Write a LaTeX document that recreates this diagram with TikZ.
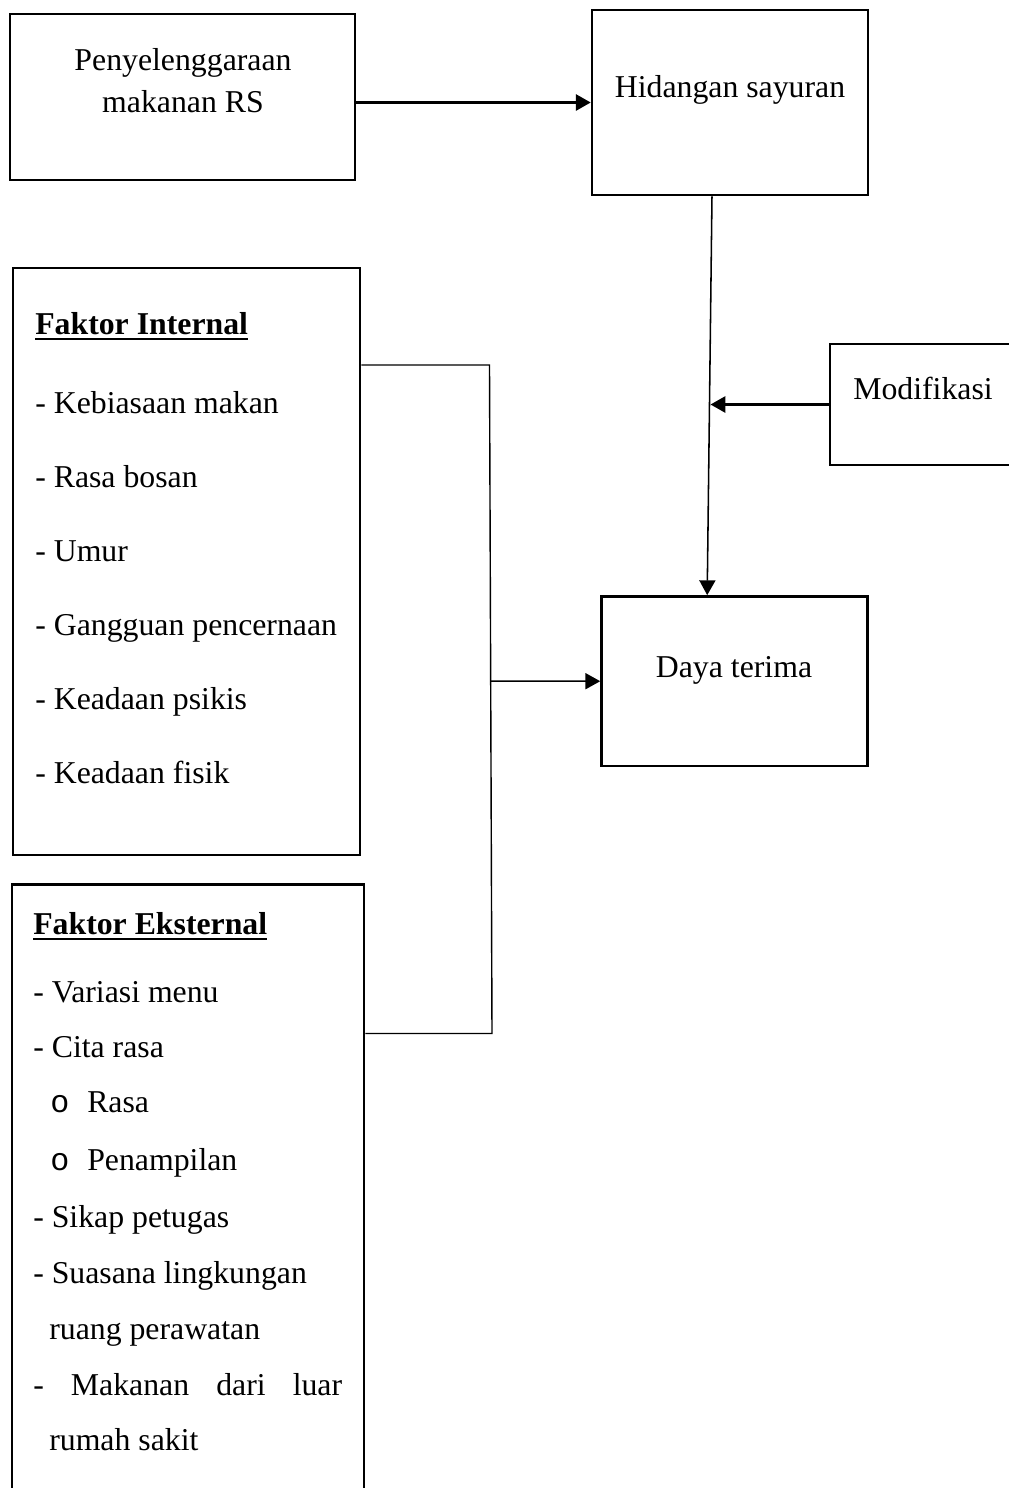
\documentclass[tikz,border=0pt]{standalone}
\usepackage{fontspec}
\setmainfont{Liberation Serif}
\newfontfamily\bulletfont{Liberation Mono}
\usetikzlibrary{arrows.meta, fit, positioning}
\newcommand{\txtsize}{\fontsize{22.6}{27}\selectfont}

\begin{document}
\begin{tikzpicture}[
  x=0.025cm, y=-0.025cm, % one unit is one pixel of the original
  box/.style={draw, line width=1.8pt, inner sep=0pt},
  txt/.style={inner sep=0pt, font=\txtsize, anchor=base},
  item/.style={txt, anchor=base west},
  head/.style={item, font=\txtsize\bfseries},
  arr/.style={line width=1.8pt, -{Triangle[length=0.37cm, width=0.4cm]}},
  thinarr/.style={line width=1.1pt, -{Triangle[length=0.37cm, width=0.4cm]}},
  link/.style={line width=1pt},
  uline/.style={line width=1.6pt}]

  \useasboundingbox (0,0) rectangle (1008,1488);

  % boxes
  \node[box, fit={(10,14) (355,180)}] (pen) {};
  \node[box, fit={(592,10) (868,195)}] (hid) {};
  \node[box, fit={(13,268) (360,855)}] (intern) {};
  \node[box, fit={(12,884.6) (364,1530)}] (extern) {}; % runs past the bottom edge
  \node[box, fit={(830,344) (1040,465)}] (mod) {}; % runs past the right edge
  \node[box, fit={(601.5,596.4) (867.3,766)}] (daya) {};

  % texts
  \node[txt] (pen1) at (183,70) {Penyelenggaraan};
  \node[txt] (pen2) at (183,112) {makanan RS};
  \node[txt] (hidtxt) at (730,97) {Hidangan sayuran};
  \node[txt] (modtxt) at (923,399.5) {Modifikasi};
  \node[txt] (dayatxt) at (734,677.7) {Daya terima};

  \node[head] (inthead) at (35,334) {Faktor Internal};
  \foreach \t [count=\i] in {Kebiasaan makan, Rasa bosan, Umur,
      Gangguan pencernaan, Keadaan psikis, Keadaan fisik}
    \node[item] (int\i) at (35, 339+74*\i) {- \t};

  \node[head] (exthead) at (33,934.3) {Faktor Eksternal};
  \node[item] (ext1) at (33,1002) {- Variasi menu};
  \node[item] (ext2) at (33,1057.6) {- Cita rasa};
  \node[item] (ext3) at (50,1112.6) {\makebox[0.925cm][l]{\bulletfont o}Rasa};
  \node[item] (ext4) at (50,1170.8) {\makebox[0.925cm][l]{\bulletfont o}Penampilan};
  \node[item] (ext5) at (33,1227) {- Sikap petugas};
  \node[item] (ext6) at (33,1283) {- Suasana lingkungan};
  \node[item] (ext7) at (49,1339.5) {ruang perawatan};
  \node[item] (ext8) at (33,1395) {\hbox to 7.72cm{-\hfill Makanan\hfill dari\hfill luar}};
  \node[item] (ext9) at (49,1450) {rumah sakit};

  \draw[uline] ([yshift=-3.5pt]inthead.base west) -- ([yshift=-3.5pt]inthead.base east);
  \draw[uline] ([yshift=-3.5pt]exthead.base west) -- ([yshift=-3.5pt]exthead.base east);

  % connectors
  \coordinate (modend) at (710.5,0);
  \coordinate (bt) at (489.5,365);
  \coordinate (bb) at (492,1033.5);
  \coordinate (bm) at (491,681.2);

  \draw[arr] (pen.east |- hid.west) -- (hid.west);
  \draw[thinarr] ([xshift=-0.45cm]hid.south) -- ([xshift=-0.68cm]daya.north);
  \draw[arr] (mod.west) -- (mod.west -| modend);
  \draw[link] (intern.east |- bt) -- (bt) -- (bb) -- (extern.east |- bb);
  \draw[thinarr] (bm) -- (daya.west);
\end{tikzpicture}
\end{document}
